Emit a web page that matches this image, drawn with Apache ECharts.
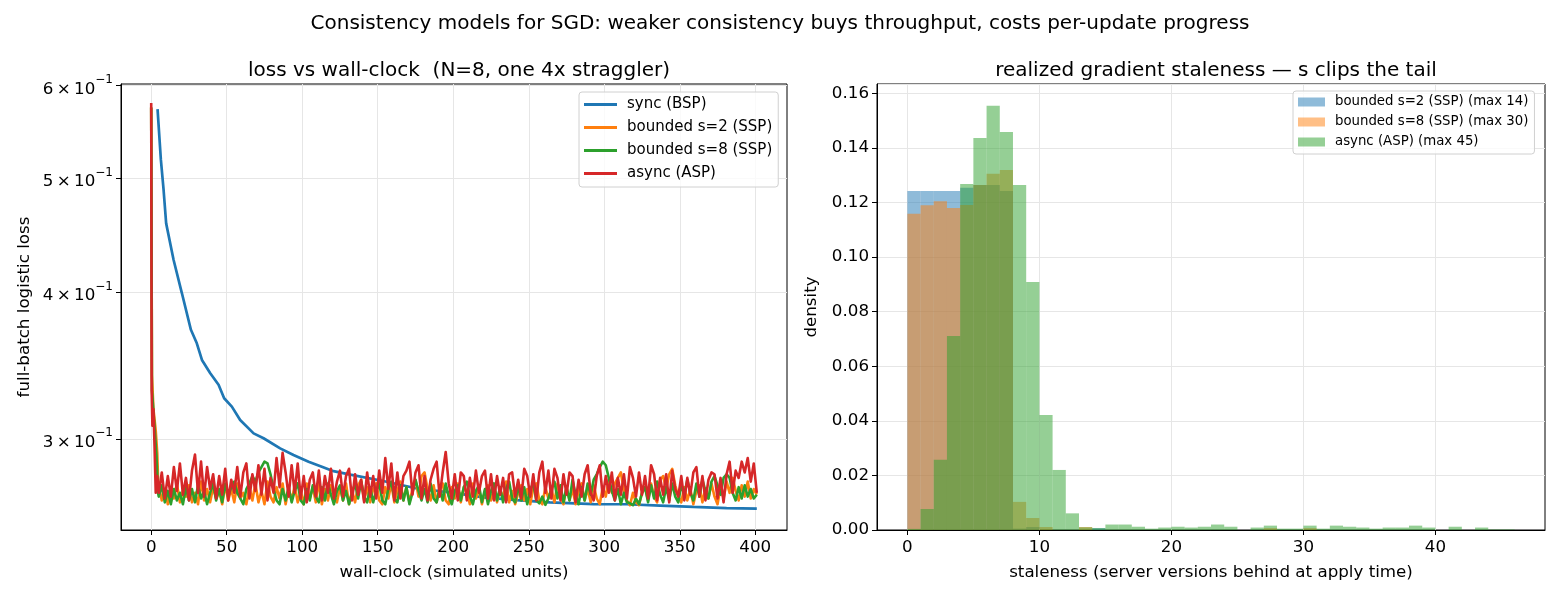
<!DOCTYPE html>
<html>
<head>
<meta charset="utf-8">
<script src="https://cdn.jsdelivr.net/npm/echarts@6.0.0/dist/echarts.min.js"></script>
<style>
  html, body { margin: 0; background: #fff; }
  #chart { width: 1560px; height: 600px; }
</style>
</head>
<body>
<div id="chart"></div>
<script>
var FONT = 'DejaVu Sans';

// ---- left panel: loss vs wall-clock ----
var syncCurve = [[4.2, 0.573], [6.4, 0.519], [8.2, 0.489], [9.9, 0.458], [14.8, 0.4265], [20.3, 0.3995],
  [26.3, 0.3717], [30.2, 0.362], [33.6, 0.3504], [39.1, 0.3414], [44.6, 0.3337], [48.3, 0.325],
  [53.4, 0.3197], [58.9, 0.3114], [67.8, 0.3034], [74.4, 0.3005], [85.4, 0.2946], [94.2, 0.2908],
  [104.2, 0.287], [113, 0.2842], [120.7, 0.2817], [131.8, 0.2798], [153.6, 0.2763], [176, 0.2723],
  [198, 0.2702], [220, 0.2676], [242, 0.2661], [264, 0.265], [293, 0.2641], [315, 0.264],
  [337, 0.2633], [359, 0.2626], [381, 0.262], [401, 0.2617]];

// first few updates before the noisy plateau
var s2Head = [[0, 0.575], [0.5, 0.34], [1.5, 0.318], [3, 0.305], [4, 0.292], [4.6, 0.276]];
var s8Head = [[0, 0.575], [0.5, 0.33], [2, 0.31], [3.5, 0.29], [4.5, 0.27]];
var aspHead = [[0, 0.58], [0.3, 0.33], [0.8, 0.308], [1.5, 0.318], [2.2, 0.296], [3, 0.27], [4, 0.279]];

// plateau samples, evenly spaced from t=5 to t=401 (step 2)
var plateauStart = 5, plateauEnd = 401;
var s2Plateau = [
  0.274,0.266,0.272,0.264,0.273,0.267,0.275,0.265,0.271,0.268,
  0.274,0.265,0.270,0.264,0.276,0.266,0.272,0.265,0.273,0.267,
  0.271,0.264,0.274,0.266,0.272,0.265,0.275,0.267,0.270,0.264,
  0.273,0.266,0.275,0.265,0.271,0.264,0.276,0.268,0.265,0.273,
  0.267,0.275,0.264,0.272,0.266,0.274,0.265,0.271,0.264,0.275,
  0.267,0.273,0.265,0.276,0.264,0.272,0.266,0.274,0.268,0.265,
  0.273,0.266,0.275,0.264,0.271,0.265,0.274,0.277,0.266,0.273,
  0.265,0.272,0.275,0.266,0.264,0.273,0.267,0.275,0.265,0.271,
  0.276,0.266,0.273,0.265,0.272,0.277,0.268,0.279,0.281,0.272,
  0.266,0.274,0.265,0.272,0.275,0.266,0.264,0.273,0.267,0.275,
  0.265,0.273,0.271,0.264,0.275,0.267,0.272,0.264,0.271,0.274,
  0.266,0.273,0.265,0.272,0.267,0.276,0.265,0.271,0.264,0.270,
  0.274,0.266,0.272,0.264,0.273,0.275,0.266,0.264,0.273,0.267,
  0.272,0.265,0.275,0.268,0.264,0.273,0.266,0.272,0.264,0.271,
  0.275,0.266,0.272,0.265,0.274,0.267,0.264,0.273,0.268,0.277,
  0.270,0.275,0.278,0.281,0.271,0.266,0.2635,0.270,0.265,0.2635,
  0.270,0.273,0.266,0.275,0.268,0.265,0.277,0.279,0.272,0.280,
  0.283,0.274,0.268,0.265,0.273,0.266,0.272,0.264,0.271,0.274,
  0.265,0.272,0.267,0.275,0.268,0.264,0.273,0.267,0.276,0.270,
  0.278,0.271,0.266,0.274,0.268,0.276,0.267,0.272,0.269];
var s8Plateau = [
  0.268,0.274,0.265,0.271,0.264,0.272,0.266,0.270,0.264,0.273,
  0.266,0.272,0.265,0.274,0.267,0.271,0.264,0.270,0.275,0.266,
  0.272,0.265,0.275,0.268,0.273,0.276,0.270,0.267,0.264,0.272,
  0.275,0.279,0.276,0.281,0.284,0.287,0.286,0.280,0.272,0.266,
  0.264,0.272,0.266,0.273,0.265,0.271,0.275,0.266,0.264,0.272,
  0.266,0.274,0.268,0.265,0.273,0.266,0.275,0.269,0.264,0.271,
  0.274,0.266,0.271,0.264,0.270,0.275,0.267,0.276,0.268,0.265,
  0.273,0.265,0.271,0.275,0.266,0.264,0.272,0.276,0.267,0.265,
  0.274,0.266,0.273,0.264,0.270,0.277,0.271,0.266,0.272,0.265,
  0.275,0.267,0.265,0.273,0.266,0.275,0.268,0.264,0.271,0.274,
  0.266,0.273,0.276,0.268,0.264,0.271,0.274,0.265,0.272,0.264,
  0.271,0.275,0.266,0.273,0.265,0.272,0.276,0.267,0.265,0.274,
  0.266,0.273,0.264,0.272,0.275,0.266,0.2645,0.268,0.2637,0.267,
  0.272,0.276,0.267,0.274,0.265,0.273,0.266,0.277,0.269,0.264,
  0.273,0.266,0.275,0.269,0.277,0.280,0.284,0.287,0.285,0.278,
  0.271,0.266,0.272,0.264,0.270,0.265,0.2645,0.2635,0.267,0.264,
  0.270,0.273,0.265,0.274,0.267,0.276,0.269,0.265,0.273,0.266,
  0.275,0.268,0.265,0.274,0.269,0.277,0.270,0.266,0.275,0.268,
  0.277,0.271,0.267,0.276,0.279,0.274,0.269,0.278,0.280,0.278,
  0.270,0.266,0.273,0.267,0.274,0.268,0.272,0.267,0.269];
var aspPlateau = [
  0.270,0.281,0.267,0.279,0.268,0.284,0.271,0.286,0.269,0.278,
  0.266,0.282,0.291,0.270,0.287,0.268,0.284,0.272,0.280,0.267,
  0.279,0.269,0.283,0.266,0.277,0.270,0.284,0.268,0.281,0.286,
  0.267,0.280,0.271,0.285,0.269,0.283,0.266,0.278,0.270,0.289,
  0.273,0.292,0.281,0.268,0.285,0.270,0.286,0.267,0.279,0.265,
  0.277,0.281,0.268,0.282,0.266,0.279,0.270,0.283,0.267,0.276,
  0.282,0.268,0.279,0.283,0.266,0.280,0.269,0.277,0.265,0.281,
  0.268,0.279,0.267,0.282,0.270,0.289,0.272,0.286,0.266,0.281,
  0.267,0.279,0.282,0.287,0.269,0.281,0.285,0.267,0.279,0.266,
  0.277,0.283,0.287,0.268,0.281,0.2925,0.275,0.267,0.280,0.266,
  0.281,0.279,0.266,0.278,0.268,0.282,0.270,0.279,0.282,0.267,
  0.280,0.266,0.279,0.269,0.278,0.265,0.280,0.281,0.268,0.277,
  0.267,0.283,0.279,0.268,0.280,0.266,0.281,0.287,0.270,0.282,
  0.267,0.283,0.278,0.266,0.280,0.269,0.281,0.279,0.265,0.277,
  0.268,0.280,0.285,0.270,0.266,0.279,0.285,0.268,0.279,0.270,
  0.281,0.266,0.278,0.269,0.280,0.267,0.284,0.278,0.268,0.281,
  0.269,0.279,0.267,0.285,0.280,0.266,0.278,0.269,0.280,0.265,
  0.282,0.272,0.268,0.279,0.266,0.278,0.269,0.281,0.284,0.268,
  0.279,0.266,0.277,0.281,0.280,0.267,0.278,0.265,0.280,0.287,
  0.270,0.282,0.278,0.287,0.281,0.289,0.276,0.286,0.270];

var lossTicks = [0.3, 0.4, 0.5, 0.6];
var wallTicks = [0, 50, 100, 150, 200, 250, 300, 350, 400];

// ---- right panel: staleness histogram (bins of width 1 from 0 to 46) ----
var binLeft = [0,1,2,3,4,5,6,7,8,9,10,11,12,13,14,15,16,17,18,19,20,21,22,23,24,25,26,27,28,29,30,31,32,33,34,35,36,37,38,39,40,41,42,43,44,45];
var s2Density = [0.1242,0.1242,0.1242,0.1242,0.1254,0.1264,0.1264,0.1242,0.0005,0.0011,0,0,0,0,0.0007,0,0,0,0,0,
  0,0,0,0,0,0,0,0,0,0,0,0,0,0,0,0,0,0,0,0,0,0,0,0,0,0];
var s8Density = [0.1159,0.1190,0.1204,0.1180,0.1191,0.1264,0.1305,0.1319,0.0103,0.0044,0.0011,0,0,0.0011,0,0,0,0,0,0,
  0,0,0,0,0,0,0,0.0007,0,0,0.0007,0,0,0,0,0,0,0,0,0,0,0,0,0,0,0];
var aspDensity = [0.0004,0.0077,0.0257,0.0711,0.1268,0.1436,0.1554,0.1458,0.1264,0.0909,0.0421,0.0220,0.0061,0.0010,0.0007,0.0020,0.0020,0.0012,0.0005,0.0009,
  0.0012,0.0009,0.0012,0.0020,0.0012,0,0.0009,0.0016,0.0005,0.0005,0.0016,0.0005,0.0016,0.0012,0.0009,0.0005,0.0009,0.0009,0.0016,0.0009,
  0,0.0012,0,0.0009,0.0002,0.0002];
var stalenessTicks = [0, 10, 20, 30, 40];

function withTime(values) {
  var step = (plateauEnd - plateauStart) / (values.length - 1);
  return values.map(function (v, i) { return [plateauStart + i * step, v]; });
}
function toLog(points) {
  return points.map(function (p) { return [p[0], Math.log10(p[1])]; });
}
function histData(values) {
  return values.map(function (v, i) { return [binLeft[i], binLeft[i] + 1, v]; });
}
function renderBin(params, api) {
  var p0 = api.coord([api.value(0), api.value(2)]);
  var p1 = api.coord([api.value(1), 0]);
  return {
    type: 'rect',
    shape: { x: p0[0], y: p0[1], width: p1[0] - p0[0], height: p1[1] - p0[1] },
    style: api.style()
  };
}

var chart = echarts.init(document.getElementById('chart'), null, { renderer: 'canvas' });

var LABEL = 16.7, TITLE = 20;
var gridLine = { show: true, lineStyle: { color: '#e6e6e6', width: 1 } };
var blackAxis = { show: true, onZero: false, lineStyle: { color: '#000', width: 1 } };
var tick = { show: true, length: 5, lineStyle: { color: '#000', width: 1 } };
var nameStyle = { fontFamily: FONT, fontSize: LABEL, color: '#000' };
var titleStyle = { fontFamily: FONT, fontSize: TITLE, fontWeight: 'normal', color: '#000' };

var option = {
  animation: false,
  backgroundColor: '#fff',
  textStyle: { fontFamily: FONT, color: '#000' },
  title: [
    { text: 'Consistency models for SGD: weaker consistency buys throughput, costs per-update progress',
      left: 'center', top: 9, textStyle: titleStyle },
    { text: 'loss vs wall-clock  (N=8, one 4x straggler)', left: 454, textAlign: 'center', top: 56, textStyle: titleStyle },
    { text: 'realized gradient staleness \u2014 s clips the tail', left: 1211, textAlign: 'center', top: 56, textStyle: titleStyle }
  ],
  legend: [
    { data: ['sync (BSP)', 'bounded s=2 (SSP)', 'bounded s=8 (SSP)', 'async (ASP)'],
      orient: 'vertical', left: 579, top: 92, icon: 'rect', itemWidth: 33, itemHeight: 3, itemGap: 6,
      padding: [4, 6, 5, 5], backgroundColor: 'rgba(255,255,255,0.8)', borderColor: '#d0d0d0', borderWidth: 1, borderRadius: 3,
      textStyle: { fontFamily: FONT, fontSize: 15, color: '#000', lineHeight: 17, padding: [0, 0, 0, 5] } },
    { data: ['bounded s=2 (SSP) (max 14)', 'bounded s=8 (SSP) (max 30)', 'async (ASP) (max 45)'],
      orient: 'vertical', left: 1293, top: 91, icon: 'rect', itemWidth: 27, itemHeight: 9, itemGap: 6,
      padding: [4, 6, 5, 5], backgroundColor: 'rgba(255,255,255,0.8)', borderColor: '#d0d0d0', borderWidth: 1, borderRadius: 3,
      textStyle: { fontFamily: FONT, fontSize: 13.3, color: '#000', lineHeight: 14, padding: [0, 0, 0, 5] } }
  ],
  grid: [
    { left: 121, right: 773, top: 84, bottom: 70, show: true, borderColor: '#000', borderWidth: 1, backgroundColor: 'transparent' },
    { left: 877, right: 15, top: 84, bottom: 70, show: true, borderColor: '#000', borderWidth: 1, backgroundColor: 'transparent' }
  ],
  xAxis: [
    { gridIndex: 0, type: 'value', min: -20, max: 421,
      name: 'wall-clock (simulated units)', nameLocation: 'middle', nameGap: 34, nameTextStyle: nameStyle,
      axisLine: blackAxis, axisTick: { show: true, length: 5, lineStyle: { color: '#000' }, customValues: wallTicks },
      axisLabel: { customValues: wallTicks, margin: 9, fontSize: LABEL, color: '#000', fontFamily: FONT },
      splitLine: gridLine },
    { gridIndex: 1, type: 'value', min: -2.3, max: 48.3,
      name: 'staleness (server versions behind at apply time)', nameLocation: 'middle', nameGap: 34, nameTextStyle: nameStyle,
      axisLine: blackAxis, axisTick: { show: true, length: 5, lineStyle: { color: '#000' }, customValues: stalenessTicks },
      axisLabel: { customValues: stalenessTicks, margin: 9, fontSize: LABEL, color: '#000', fontFamily: FONT },
      splitLine: gridLine }
  ],
  yAxis: [
    { gridIndex: 0, type: 'value', min: Math.log10(0.251), max: Math.log10(0.602),
      name: 'full-batch logistic loss', nameLocation: 'middle', nameGap: 88, nameRotate: 90, nameTextStyle: nameStyle,
      axisLine: blackAxis,
      axisTick: { show: true, length: 5, lineStyle: { color: '#000' }, customValues: lossTicks.map(Math.log10) },
      axisLabel: {
        customValues: lossTicks.map(Math.log10), margin: 8, fontFamily: FONT, color: '#000',
        formatter: function (val) {
          var m = Math.round(Math.pow(10, val) * 10);
          return '{b|' + m + '\u2009\u00d7\u200910}{s|\u22121}';
        },
        rich: {
          b: { fontSize: LABEL, fontFamily: FONT, color: '#000', lineHeight: 24, verticalAlign: 'bottom' },
          s: { fontSize: 12, fontFamily: FONT, color: '#000', lineHeight: 24, verticalAlign: 'top' }
        }
      },
      splitLine: gridLine },
    { gridIndex: 1, type: 'value', min: 0, max: 0.1634, interval: 0.02,
      name: 'density', nameLocation: 'middle', nameGap: 57, nameRotate: 90, nameTextStyle: nameStyle,
      axisLine: blackAxis, axisTick: tick,
      axisLabel: { margin: 8, fontSize: LABEL, color: '#000', fontFamily: FONT,
        formatter: function (v) { return v.toFixed(2); } },
      splitLine: gridLine }
  ],
  series: [
    { name: 'sync (BSP)', type: 'line', xAxisIndex: 0, yAxisIndex: 0, showSymbol: false, symbol: 'none',
      data: toLog(syncCurve), lineStyle: { width: 2.7, color: '#1f77b4' }, itemStyle: { color: '#1f77b4' }, z: 2 },
    { name: 'bounded s=2 (SSP)', type: 'line', xAxisIndex: 0, yAxisIndex: 0, showSymbol: false, symbol: 'none',
      data: toLog(s2Head.concat(withTime(s2Plateau))), lineStyle: { width: 2.6, color: '#ff7f0e', join: 'round' }, itemStyle: { color: '#ff7f0e' }, z: 3 },
    { name: 'bounded s=8 (SSP)', type: 'line', xAxisIndex: 0, yAxisIndex: 0, showSymbol: false, symbol: 'none',
      data: toLog(s8Head.concat(withTime(s8Plateau))), lineStyle: { width: 2.6, color: '#2ca02c', join: 'round' }, itemStyle: { color: '#2ca02c' }, z: 4 },
    { name: 'async (ASP)', type: 'line', xAxisIndex: 0, yAxisIndex: 0, showSymbol: false, symbol: 'none',
      data: toLog(aspHead.concat(withTime(aspPlateau))), lineStyle: { width: 2.6, color: '#d62728', join: 'round' }, itemStyle: { color: '#d62728' }, z: 5 },

    { name: 'bounded s=2 (SSP) (max 14)', type: 'custom', xAxisIndex: 1, yAxisIndex: 1, renderItem: renderBin,
      encode: { x: [0, 1], y: 2 }, data: histData(s2Density), itemStyle: { color: 'rgba(31,119,180,0.5)' } },
    { name: 'bounded s=8 (SSP) (max 30)', type: 'custom', xAxisIndex: 1, yAxisIndex: 1, renderItem: renderBin,
      encode: { x: [0, 1], y: 2 }, data: histData(s8Density), itemStyle: { color: 'rgba(255,127,14,0.5)' } },
    { name: 'async (ASP) (max 45)', type: 'custom', xAxisIndex: 1, yAxisIndex: 1, renderItem: renderBin,
      encode: { x: [0, 1], y: 2 }, data: histData(aspDensity), itemStyle: { color: 'rgba(44,160,44,0.5)' } }
  ]
};

chart.setOption(option);
</script>
</body>
</html>
